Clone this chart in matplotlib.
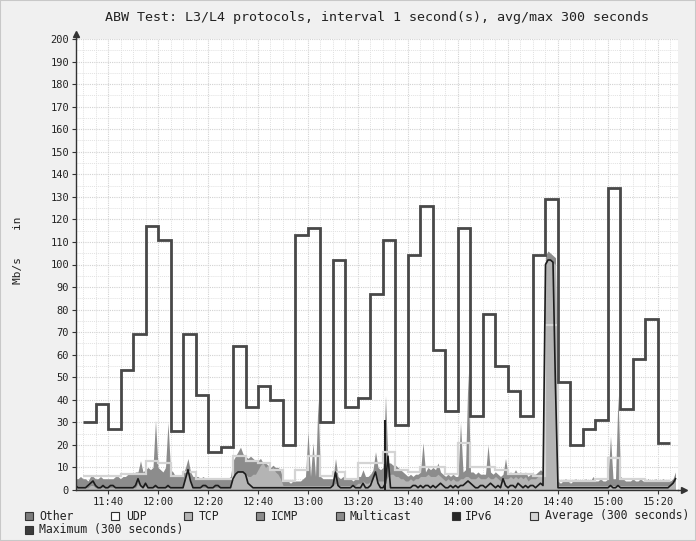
import matplotlib
matplotlib.use('Agg')
import matplotlib.pyplot as plt
from matplotlib.patches import Rectangle
import numpy as np

plt.rcParams['font.family'] = ['DejaVu Sans Mono', 'DejaVu Sans']

W, H = 696, 541

# one sample per minute, x = minutes after 11:00 (11:27 ... 15:27)
t_first = 27

total_in = ([5, 5, 6] +
            [5, 5, 4, 6, 6, 5, 5, 6, 5, 5] +
            [5, 5, 5, 6, 6, 5, 6, 6, 7, 7] +
            [7, 8, 8, 13, 8, 9, 10, 9, 10, 31] +
            [10, 9, 8, 10, 30, 9, 8, 6, 6, 6] +
            [7, 10, 14, 8, 6, 6, 6, 5, 6, 5] +
            [5, 5, 5, 5, 5, 5, 5, 5, 5, 6] +
            [13, 15, 17, 19, 16, 15, 14, 15, 14, 13] +
            [13, 14, 12, 12, 11, 10, 11, 10, 10, 9] +
            [4, 4, 4, 3, 4, 4, 4, 4, 5, 6] +
            [26, 6, 21, 6, 40, 6, 5, 5, 5, 5] +
            [5, 14, 6, 5, 6, 5, 5, 5, 4, 5] +
            [6, 6, 9, 6, 6, 7, 9, 17, 10, 9] +
            [10, 42, 12, 12, 11, 11, 10, 9, 8, 7] +
            [6, 7, 6, 7, 7, 8, 21, 8, 10, 9] +
            [10, 9, 12, 8, 7, 6, 7, 6, 7, 6] +
            [6, 30, 8, 9, 52, 8, 8, 7, 8, 7] +
            [7, 7, 20, 8, 7, 8, 7, 6, 7, 14] +
            [7, 8, 7, 9, 7, 8, 7, 8, 6, 7] +
            [7, 7, 8, 9, 8, 104, 106, 105, 104, 103] +
            [4, 3, 4, 5, 4, 3, 4, 5, 4, 4] +
            [4, 5, 4, 4, 6, 4, 4, 5, 4, 4] +
            [5, 24, 5, 5, 42, 6, 5, 4, 4, 4] +
            [5, 4, 4, 5, 4, 4, 5, 4, 4, 5] +
            [4, 4, 5, 4, 4, 4, 5, 8])

tcp_in = ([1, 1, 1] +
          [1, 1, 1, 2, 2, 1, 1, 1, 1, 1] +
          [1, 1, 1, 1, 1, 1, 1, 1, 1, 1] +
          [1, 1, 3, 2, 1, 2, 1, 1, 1, 1] +
          [1, 1, 1, 1, 1, 1, 1, 1, 1, 1] +
          [1, 6, 9, 4, 1, 1, 1, 1, 1, 1] +
          [1, 1, 1, 1, 1, 1, 1, 1, 1, 2] +
          [5, 7, 8, 8, 8, 7, 6, 6, 7, 7] +
          [9, 11, 12, 10, 11, 9, 10, 8, 7, 5] +
          [2, 2, 2, 2, 2, 2, 2, 2, 2, 2] +
          [2, 2, 2, 2, 2, 2, 2, 2, 2, 2] +
          [2, 3, 2, 2, 2, 2, 2, 2, 2, 2] +
          [3, 3, 4, 3, 3, 4, 5, 8, 4, 4] +
          [4, 4, 6, 7, 7, 6, 6, 5, 5, 4] +
          [4, 5, 4, 5, 5, 6, 6, 6, 7, 6] +
          [6, 6, 7, 6, 5, 4, 5, 4, 5, 4] +
          [4, 5, 5, 6, 6, 5, 5, 5, 6, 5] +
          [5, 5, 6, 5, 5, 6, 5, 4, 5, 5] +
          [5, 6, 5, 6, 5, 6, 5, 6, 4, 5] +
          [5, 5, 6, 6, 6, 100, 102, 102, 101, 100] +
          [2, 2, 2, 2, 2, 2, 2, 2, 2, 2] +
          [2, 2, 2, 2, 2, 2, 2, 2, 2, 2] +
          [2, 2, 2, 2, 2, 2, 2, 2, 2, 2] +
          [2, 2, 2, 2, 2, 2, 2, 2, 2, 2] +
          [2, 2, 2, 2, 2, 2, 3, 4])

other_line = ([2, 1, 1] +
              [1, 1, 2, 3, 4, 2, 1, 1, 2, 1] +
              [1, 2, 2, 1, 1, 1, 1, 1, 1, 1] +
              [1, 2, 5, 2, 1, 3, 1, 1, 1, 2] +
              [1, 1, 1, 1, 2, 1, 1, 1, 1, 1] +
              [1, 5, 9, 4, 1, 1, 1, 1, 2, 2] +
              [1, 1, 1, 2, 2, 1, 1, 1, 1, 1] +
              [5, 7, 8, 8, 8, 7, 3, 2, 1, 1] +
              [1, 1, 1, 1, 1, 1, 1, 1, 1, 1] +
              [1, 1, 1, 1, 1, 1, 1, 1, 1, 1] +
              [1, 1, 1, 1, 1, 1, 1, 1, 1, 1] +
              [2, 8, 2, 1, 1, 1, 1, 1, 2, 1] +
              [1, 1, 3, 1, 1, 2, 5, 8, 3, 1] +
              [1, 3, 15, 1, 1, 1, 1, 1, 1, 1] +
              [1, 1, 2, 2, 1, 2, 1, 2, 2, 1] +
              [2, 1, 2, 3, 2, 1, 1, 2, 1, 2] +
              [1, 2, 2, 3, 4, 3, 2, 1, 1, 2] +
              [2, 1, 2, 3, 2, 1, 2, 1, 5, 2] +
              [1, 2, 2, 1, 3, 2, 1, 2, 1, 2] +
              [2, 1, 2, 3, 2, 100, 102, 102, 101, 45] +
              [1, 1, 1, 1, 1, 1, 1, 1, 1, 1] +
              [1, 1, 1, 1, 1, 1, 1, 1, 1, 1] +
              [1, 2, 1, 1, 2, 1, 1, 1, 1, 1] +
              [1, 1, 1, 1, 1, 1, 1, 1, 1, 1] +
              [1, 1, 1, 1, 1, 2, 3, 5])

ipv6_t = [151]
ipv6_v = [31]

# 300 second steps, 11:30 ... 15:25
step_edges = list(range(30, 270, 5))
max_300 = [30, 38, 27, 53, 69, 117, 111, 26, 69, 42,
           17, 19, 64, 37, 46, 40, 20, 113, 116, 30,
           102, 37, 41, 87, 111, 29, 104, 126, 62, 35,
           116, 33, 78, 55, 44, 33, 104, 129, 48, 20,
           27, 31, 134, 36, 58, 76, 21]
avg_300 = [6, 6, 6, 7, 7, 13, 12, 6, 8, 5,
           5, 5, 15, 13, 12, 9, 4, 9, 15, 6,
           8, 5, 12, 12, 17, 9, 8, 10, 10, 7,
           21, 10, 10, 9, 7, 7, 6, 73, 4, 4,
           4, 5, 14, 5, 5, 4, 4]

tick_pos = [40, 60, 80, 100, 120, 140, 160, 180, 200, 220, 240, 260]
tick_lab = ['11:40', '12:00', '12:20', '12:40', '13:00', '13:20',
            '13:40', '14:00', '14:20', '14:40', '15:00', '15:20']

legend_names = ['Other', 'UDP', 'TCP', 'ICMP', 'Multicast', 'IPv6',
                'Average (300 seconds)', 'Maximum (300 seconds)']
legend_cols = ['#7c7c7c', '#ffffff', '#b4b4b4', '#8c8c8c', '#8c8c8c',
               '#262626', '#d4d4d4', '#3c3c3c']

assert len(total_in) == len(tcp_in) == len(other_line)
minutes = np.arange(t_first, t_first + len(total_in))

fig = plt.figure(figsize=(W / 100, H / 100), dpi=100, facecolor='#f0f0f0')
ax = fig.add_axes([76 / W, 51 / H, 602 / W, 451 / H])
ax.set_facecolor('white')

ax.fill_between(minutes, 0, total_in, color='#8c8c8c', lw=0, zorder=2)
ax.fill_between(minutes, 0, tcp_in, color='#b4b4b4', lw=0, zorder=3)
ax.bar(ipv6_t, ipv6_v, width=0.8, color='#1c1c1c', zorder=4)
ax.stairs(avg_300, step_edges, baseline=None, color='#d4d4d4', lw=1.6, zorder=5)
ax.plot(minutes, other_line, color='#1c1c1c', lw=1.2, zorder=6)
ax.stairs(max_300, step_edges, baseline=None, color='#484848', lw=2.0, zorder=7)

ax.set_xlim(27.2, 268)
ax.set_ylim(0, 200)
ax.set_xticks(tick_pos)
ax.set_xticklabels(tick_lab)
ax.set_xticks(np.arange(30, 268, 5), minor=True)
ax.set_yticks(np.arange(0, 201, 10))
ax.set_yticks(np.arange(5, 200, 10), minor=True)
ax.grid(which='major', color='#d2d2d2', ls=(0, (1, 1)), lw=0.8, zorder=0)
ax.grid(which='minor', color='#e2e2e2', ls=(0, (1, 1)), lw=0.7, zorder=0)
ax.tick_params(which='major', length=3, width=0.8, color='#333333',
               labelsize=7.5, pad=2, labelcolor='#222222')
ax.tick_params(which='minor', length=0)

for s in ['top', 'right']:
    ax.spines[s].set_visible(False)
for s in ['left', 'bottom']:
    ax.spines[s].set_color('#333333')
    ax.spines[s].set_linewidth(1)
    ax.spines[s].set_zorder(8)

# axis arrows
ax.plot([0, 0], [1, 1.012], color='#333333', lw=1, transform=ax.transAxes, clip_on=False)
ax.plot([0], [1.012], marker='^', ms=4, color='#333333', transform=ax.transAxes, clip_on=False)
ax.plot([1, 1.01], [0, 0], color='#333333', lw=1, transform=ax.transAxes, clip_on=False)
ax.plot([1.01], [0], marker='>', ms=4, color='#333333', transform=ax.transAxes, clip_on=False)

fig.text(377 / W, 1 - 18 / H,
         'ABW Test: L3/L4 protocols, interval 1 second(s), avg/max 300 seconds',
         ha='center', va='center', fontsize=9.6, color='#222222')
fig.text(18 / W, 1 - 250 / H, 'Mb/s    in', rotation=90, ha='center', va='center',
         fontsize=8, color='#222222')

# legend, drawn like rrdtool
sq_x = [25, 111, 184, 256, 336, 452, 530, 25]
tx_x = [39, 126, 199, 271, 350, 465, 545, 39]
row_y = [516, 516, 516, 516, 516, 516, 516, 530]
for name, col, sx, tx, ry in zip(legend_names, legend_cols, sq_x, tx_x, row_y):
    fig.patches.append(Rectangle((sx / W, 1 - (ry + 4) / H), 8 / W, 8 / H,
                                 transform=fig.transFigure, facecolor=col,
                                 edgecolor='#333333', lw=0.8))
    fig.text(tx / W, 1 - ry / H, name, ha='left', va='center', fontsize=8.3,
             color='#222222')

fig.patches.append(Rectangle((0, 0), 1, 1, transform=fig.transFigure, fill=False,
                             edgecolor='#c8c8c8', lw=1.5))

fig.savefig('out.png', dpi=100, facecolor=fig.get_facecolor())
